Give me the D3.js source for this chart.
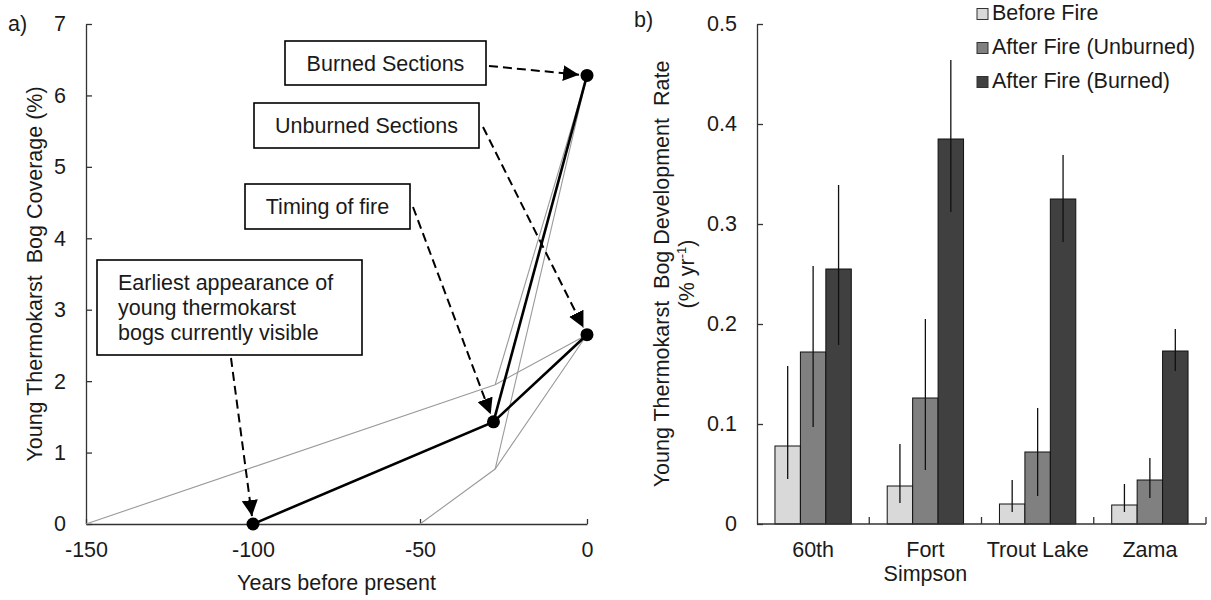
<!DOCTYPE html>
<html>
<head>
  <meta charset="utf-8">
  <style type="text/css">
	body { margin: 0; background: #fff; }
	svg text { font-family: Arial, "Liberation Sans", sans-serif; fill: #1a1a1a; white-space: pre; }
	.axis path, .axis line { stroke: #333; stroke-width: 1.3; }
	.axis text { font-size: 21.5px; fill: #1a1a1a; }
  </style>
</head>
<body>
<svg width="1211" height="600"></svg>
<script src="https://cdnjs.cloudflare.com/ajax/libs/d3/7.8.5/d3.min.js"></script>
<script>
	// panel a) data
	var pathYears = [-100, -28, 0],
			pathCoverage = [0, 1.43, 2.65],
			burnedYears = [-28, 0],
			burnedCoverage = [1.43, 6.28],
			upperYears = [-150, -27.5, 0],
			upperCoverage = [0, 1.95, 2.65],
			upperBurnedCoverage = [1.95, 6.28],
			lowerYears = [-50, -27.5, 0],
			lowerCoverage = [0, 0.77, 2.65],
			lowerBurnedCoverage = [0.77, 6.28];
	var yearTicks = [-150, -100, -50, 0],
			coverageTicks = [0, 1, 2, 3, 4, 5, 6, 7];

	// panel b) data
	var sites = ["60th", "Fort Simpson", "Trout Lake", "Zama"],
			series = ["Before Fire", "After Fire (Unburned)", "After Fire (Burned)"],
			beforeFire = [0.078, 0.038, 0.020, 0.019],
			beforeLo = [0.045, 0.021, 0.012, 0.012],
			beforeHi = [0.158, 0.080, 0.044, 0.040],
			afterUnburned = [0.172, 0.126, 0.072, 0.044],
			unburnedLo = [0.097, 0.054, 0.028, 0.026],
			unburnedHi = [0.258, 0.205, 0.116, 0.066],
			afterBurned = [0.255, 0.385, 0.325, 0.173],
			burnedLo = [0.179, 0.312, 0.282, 0.153],
			burnedHi = [0.339, 0.464, 0.369, 0.195],
			rateTicks = [0, 0.1, 0.2, 0.3, 0.4, 0.5];

	var svg = d3.select("svg");

	// ---------- panel a ----------
	var xA = d3.scaleLinear().domain([-150, 0]).range([86, 587]),
			yA = d3.scaleLinear().domain([0, 7]).range([524, 24]);

	var ga = svg.append("g");

	ga.append("g")
			.attr("class", "axis")
			.attr("transform", "translate(0," + yA(0) + ")")
			.call(d3.axisBottom(xA).tickValues(yearTicks).tickFormat(function(d) { return String(d); }).tickSizeInner(-5).tickSizeOuter(0).tickPadding(18))
			.call(function(g) { g.selectAll("text").attr("font-family", null); });

	ga.append("g")
			.attr("class", "axis")
			.attr("transform", "translate(" + xA(-150) + ",0)")
			.call(d3.axisLeft(yA).tickValues(coverageTicks).tickFormat(function(d) { return String(d); }).tickSizeInner(-6).tickSizeOuter(0).tickPadding(20))
			.call(function(g) { g.selectAll("text").attr("font-family", null); });

	var line = d3.line().x(function(d) { return xA(d[0]); }).y(function(d) { return yA(d[1]); });

	var grayPaths = [
		d3.zip(upperYears, upperCoverage),
		d3.zip(upperYears.slice(1), upperBurnedCoverage),
		d3.zip(lowerYears, lowerCoverage),
		d3.zip(lowerYears.slice(1), lowerBurnedCoverage)
	];
	ga.selectAll(".gray")
		.data(grayPaths)
		.enter().append("path")
			.attr("fill", "none")
			.attr("stroke", "#9a9a9a")
			.attr("stroke-width", 1.1)
			.attr("d", line);

	var mainPaths = [d3.zip(pathYears, pathCoverage), d3.zip(burnedYears, burnedCoverage)];
	ga.selectAll(".main")
		.data(mainPaths)
		.enter().append("path")
			.attr("fill", "none")
			.attr("stroke", "#000")
			.attr("stroke-width", 2.6)
			.attr("d", line);

	var points = d3.zip(pathYears, pathCoverage).concat([[burnedYears[1], burnedCoverage[1]]]);
	ga.selectAll("circle")
		.data(points)
		.enter().append("circle")
			.attr("cx", function(d) { return xA(d[0]); })
			.attr("cy", function(d) { return yA(d[1]); })
			.attr("r", 6.5)
			.attr("fill", "#000");

	// arrowhead
	svg.append("defs").append("marker")
			.attr("id", "head")
			.attr("markerUnits", "userSpaceOnUse")
			.attr("viewBox", "0 0 16 16")
			.attr("markerWidth", 16)
			.attr("markerHeight", 16)
			.attr("refX", 16)
			.attr("refY", 8)
			.attr("orient", "auto")
		.append("path")
			.attr("d", "M0,0L16,8L0,16Z")
			.attr("fill", "#000");

	// annotation boxes (pixel layout) pointing at data points
	var notes = [
		{lines: ["Burned Sections"], box: [285, 41, 201, 44], align: "middle", tail: [489, 66], target: [0, 6.28]},
		{lines: ["Unburned Sections"], box: [254, 103, 225, 45], align: "middle", tail: [483, 127], target: [0, 2.65]},
		{lines: ["Timing of fire"], box: [245, 184, 165, 45], align: "middle", tail: [413, 207], target: [-28, 1.43]},
		{lines: ["Earliest appearance of", "young thermokarst", "bogs currently visible"], box: [97, 260, 265, 95], align: "start", tail: [231, 358], target: [-100, 0]}
	];

	notes.forEach(function(n) {
		var px = xA(n.target[0]), py = yA(n.target[1]),
				dx = px - n.tail[0], dy = py - n.tail[1],
				len = Math.sqrt(dx * dx + dy * dy),
				tip = [px - dx / len * 8, py - dy / len * 8];
		ga.append("line")
				.attr("x1", n.tail[0]).attr("y1", n.tail[1])
				.attr("x2", tip[0]).attr("y2", tip[1])
				.attr("stroke", "#000")
				.attr("stroke-width", 2)
				.attr("stroke-dasharray", "9,5")
				.attr("marker-end", "url(#head)");
		ga.append("rect")
				.attr("x", n.box[0]).attr("y", n.box[1])
				.attr("width", n.box[2]).attr("height", n.box[3])
				.attr("fill", "#fff")
				.attr("stroke", "#000")
				.attr("stroke-width", 1.6);
		var tx = n.align == "middle" ? n.box[0] + n.box[2] / 2 : n.box[0] + 21,
				ty0 = n.box[1] + n.box[3] / 2 - (n.lines.length - 1) * 12.5;
		n.lines.forEach(function(t, i) {
			ga.append("text")
					.attr("x", tx)
					.attr("y", ty0 + i * 25)
					.attr("dy", "0.36em")
					.attr("text-anchor", n.align)
					.attr("font-size", 21.5)
					.text(t);
		});
	});

	ga.append("text").attr("x", 8).attr("y", 31).attr("font-size", 21.5).text("a)");
	ga.append("text")
			.attr("x", (xA(-150) + xA(0)) / 2)
			.attr("y", 590)
			.attr("text-anchor", "middle")
			.attr("font-size", 21.5)
			.text("Years before present");
	ga.append("text")
			.attr("transform", "translate(42,274) rotate(-90)")
			.attr("text-anchor", "middle")
			.attr("font-size", 21.5)
			.text("Young Thermokarst  Bog Coverage (%)");

	// ---------- panel b ----------
	var x0 = d3.scaleBand().domain(sites).range([757, 1206]),
			bw = x0.bandwidth(),
			x1 = d3.scaleBand().domain(series).range([bw * 0.16, bw * 0.84]),
			yB = d3.scaleLinear().domain([0, 0.5]).range([524, 24]),
			color = d3.scaleOrdinal().domain(series).range(["#d9d9d9", "#808080", "#404040"]);

	var values = [beforeFire, afterUnburned, afterBurned],
			lows = [beforeLo, unburnedLo, burnedLo],
			highs = [beforeHi, unburnedHi, burnedHi];

	var rows = [];
	sites.forEach(function(s, i) {
		series.forEach(function(k, j) {
			rows.push({site: s, key: k, value: values[j][i], lo: lows[j][i], hi: highs[j][i]});
		});
	});

	var gb = svg.append("g");

	gb.append("g")
			.attr("class", "axis")
			.attr("transform", "translate(757,0)")
			.call(d3.axisLeft(yB).tickValues(rateTicks).tickFormat(function(d) { return d === 0 ? "0" : d3.format(".1f")(d); }).tickSizeInner(-6).tickSizeOuter(0).tickPadding(20))
			.call(function(g) { g.selectAll("text").attr("font-family", null); });

	gb.selectAll(".bar")
		.data(rows)
		.enter().append("rect")
			.attr("x", function(d) { return x0(d.site) + x1(d.key); })
			.attr("y", function(d) { return yB(d.value); })
			.attr("width", x1.bandwidth())
			.attr("height", function(d) { return yB(0) - yB(d.value); })
			.attr("fill", function(d) { return color(d.key); })
			.attr("stroke", "#111")
			.attr("stroke-width", 1);

	gb.selectAll(".err")
		.data(rows)
		.enter().append("line")
			.attr("x1", function(d) { return x0(d.site) + x1(d.key) + x1.bandwidth() / 2; })
			.attr("x2", function(d) { return x0(d.site) + x1(d.key) + x1.bandwidth() / 2; })
			.attr("y1", function(d) { return yB(d.lo); })
			.attr("y2", function(d) { return yB(d.hi); })
			.attr("stroke", "#111")
			.attr("stroke-width", 1.3);

	// x axis with ticks between categories
	var xAxisB = gb.append("g").attr("class", "axis");
	xAxisB.append("line")
			.attr("x1", 757).attr("x2", 1206)
			.attr("y1", yB(0)).attr("y2", yB(0));
	xAxisB.selectAll(".tk")
		.data(sites)
		.enter().append("line")
			.attr("x1", function(d) { return x0(d) + bw; })
			.attr("x2", function(d) { return x0(d) + bw; })
			.attr("y1", yB(0)).attr("y2", yB(0) - 7);
	xAxisB.selectAll(".lbl")
		.data(sites)
		.enter().append("text")
			.attr("text-anchor", "middle")
			.attr("font-size", 21.5)
			.attr("x", function(d) { return x0(d) + bw / 2; })
			.attr("y", 557)
			.each(function(d) {
				var words = d == "Fort Simpson" ? ["Fort", "Simpson"] : [d];
				var t = d3.select(this);
				words.forEach(function(w, i) {
					t.append("tspan").attr("x", x0(d) + bw / 2).attr("dy", i ? 23.5 : 0).text(w);
				});
			});

	gb.append("text").attr("x", 634).attr("y", 27).attr("font-size", 21.5).text("b)");

	var ttl = gb.append("text")
			.attr("transform", "translate(669,274) rotate(-90)")
			.attr("text-anchor", "middle")
			.attr("font-size", 21.5);
	ttl.append("tspan").attr("x", 0).attr("dy", 0).text("Young Thermokarst  Bog Development  Rate");
	var t2 = ttl.append("tspan").attr("x", 0).attr("dy", 25).text("(% yr");
	t2.append("tspan").attr("font-size", 13).attr("dy", -8).text("-1");
	ttl.append("tspan").attr("dy", 8).text(")");

	// legend
	var legend = gb.selectAll(".legend")
		.data(series)
		.enter().append("g")
			.attr("transform", function(d, i) { return "translate(977," + (20 + i * 34) + ")"; });
	legend.append("rect")
			.attr("x", 0).attr("y", -11.5)
			.attr("width", 11).attr("height", 11)
			.attr("fill", color)
			.attr("stroke", "#333")
			.attr("stroke-width", 1);
	legend.append("text")
			.attr("x", 15)
			.attr("font-size", 21.5)
			.text(function(d) { return d; });
</script>
</body>
</html>
